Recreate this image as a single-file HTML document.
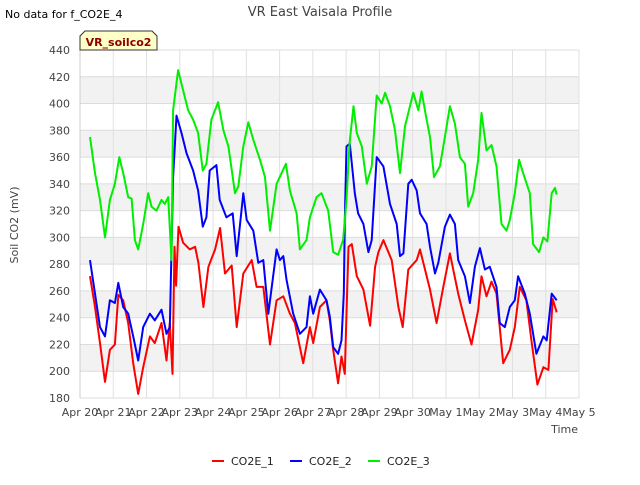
<!DOCTYPE html>
<html><head><meta charset="utf-8"><style>
body{margin:0;background:#fff;font-family:"Liberation Sans","DejaVu Sans",sans-serif}
svg text{font-family:"DejaVu Sans","Liberation Sans",sans-serif}
</style></head><body>
<svg id="chart" width="640" height="480">
<text x="5" y="18" font-size="11" fill="#000">No data for f_CO2E_4</text>
<text x="320" y="16" font-size="13" fill="#444" text-anchor="middle">VR East Vaisala Profile</text>
<g id="grid"></g>
<g id="yticks"></g>
<g id="xticks"></g>
<text transform="translate(18,225) rotate(-90)" font-size="11" fill="#444" text-anchor="middle">Soil CO2 (mV)</text>
<text x="578" y="433" font-size="11" fill="#444" text-anchor="end">Time</text>
<g id="series"></g>
<g>
<path d="M80,50 L80,36 L85,31 L152,31 L157,36 L157,50 Z" fill="#ffffc8" stroke="#333" stroke-width="1"/>
<text x="118.5" y="46" font-size="11" font-weight="bold" fill="#8b0000" text-anchor="middle">VR_soilco2</text>
</g>
<g id="legend"></g>
</svg>
<script>
const yTicks=[180,200,220,240,260,280,300,320,340,360,380,400,420,440];
const xLabels=["Apr 20","Apr 21","Apr 22","Apr 23","Apr 24","Apr 25","Apr 26","Apr 27","Apr 28","Apr 29","Apr 30","May 1","May 2","May 3","May 4","May 5"];
const seriesNames=["CO2E_1","CO2E_2","CO2E_3"];
const seriesColors=["#ff0000","#0000ff","#00ee00"];
const t1=[0.3,0.45,0.6,0.75,0.9,1.05,1.15,1.3,1.45,1.6,1.75,1.9,2.1,2.25,2.45,2.6,2.7,2.78,2.84,2.89,2.96,3.1,3.3,3.46,3.56,3.71,3.86,4.06,4.21,4.36,4.56,4.71,4.91,5.16,5.31,5.51,5.71,5.91,6.11,6.31,6.46,6.71,6.91,7.01,7.21,7.41,7.51,7.61,7.76,7.86,7.96,8.0,8.07,8.17,8.32,8.52,8.72,8.87,8.97,9.12,9.37,9.57,9.7,9.87,10.12,10.22,10.37,10.52,10.72,10.92,11.12,11.37,11.57,11.77,11.97,12.07,12.22,12.37,12.52,12.72,12.92,13.07,13.22,13.42,13.57,13.75,13.93,14.08,14.21,14.33];
const v1=[271,248,221,192,216,220,257,253,236,206,183,203,226,221,236,208,236,198,293,264,308,296,291,293,281,248,278,291,307,273,279,233,273,283,263,263,220,253,256,243,236,206,233,221,248,253,238,216,191,211,198,233,293,295,271,261,234,278,289,298,283,248,233,276,283,291,276,261,236,263,288,258,238,220,246,271,256,267,258,206,216,233,263,253,223,190,203,201,254,244];
const t2=[0.3,0.45,0.6,0.75,0.9,1.05,1.15,1.3,1.45,1.6,1.75,1.9,2.1,2.25,2.45,2.6,2.7,2.8,2.9,3.05,3.2,3.4,3.55,3.69,3.8,3.9,4.1,4.2,4.4,4.59,4.71,4.91,5.01,5.21,5.36,5.51,5.66,5.91,6.01,6.11,6.21,6.41,6.61,6.81,6.91,7.01,7.21,7.41,7.51,7.61,7.76,7.86,7.93,7.96,8.01,8.11,8.26,8.36,8.52,8.67,8.77,8.92,9.12,9.32,9.52,9.62,9.72,9.87,9.97,10.12,10.22,10.42,10.52,10.67,10.77,10.97,11.12,11.27,11.37,11.57,11.72,11.87,12.02,12.17,12.32,12.52,12.62,12.77,12.92,13.07,13.17,13.37,13.52,13.72,13.93,14.03,14.18,14.33];
const v2=[283,258,233,226,253,251,266,248,243,226,208,233,243,238,246,228,233,345,391,378,363,350,335,308,315,350,354,328,315,318,286,333,313,305,281,283,243,291,283,286,268,243,228,233,256,243,261,253,241,218,213,223,258,313,368,370,333,318,310,289,298,360,353,325,310,286,288,340,343,335,318,310,293,273,281,308,317,310,283,271,251,278,292,276,278,263,236,233,248,253,271,258,243,213,226,223,258,253];
const t3=[0.3,0.45,0.6,0.75,0.9,1.05,1.18,1.3,1.45,1.55,1.65,1.75,1.9,2.05,2.15,2.3,2.45,2.55,2.65,2.75,2.8,2.95,3.1,3.25,3.4,3.55,3.69,3.8,3.95,4.15,4.31,4.46,4.66,4.76,4.91,5.06,5.21,5.41,5.56,5.71,5.91,6.06,6.19,6.31,6.51,6.61,6.81,6.91,7.11,7.26,7.46,7.61,7.76,7.91,8.01,8.1,8.22,8.32,8.47,8.62,8.77,8.92,9.07,9.17,9.32,9.47,9.62,9.77,10.02,10.17,10.27,10.42,10.52,10.64,10.82,10.97,11.12,11.27,11.42,11.57,11.67,11.82,11.97,12.07,12.22,12.37,12.52,12.67,12.82,12.92,13.07,13.2,13.32,13.52,13.62,13.8,13.93,14.05,14.18,14.28,14.33];
const v3=[375,348,328,300,328,340,360,348,330,329,298,291,310,333,323,320,328,325,330,283,395,425,410,395,388,378,350,355,388,401,380,368,333,338,368,386,373,358,345,305,340,348,355,335,318,291,298,315,330,333,320,289,287,298,328,370,398,378,368,340,353,406,400,408,398,380,348,383,408,395,409,388,375,345,353,375,398,385,360,355,323,333,358,393,365,369,353,310,305,313,333,358,348,333,295,289,300,297,333,337,332];
const X0=80,X1=579,Y0=398,Y1=50;
function xs(d){return X0+d*(X1-X0)/15;}
function ys(v){return Y0-(v-180)*(Y0-Y1)/260;}
const NS="http://www.w3.org/2000/svg";
function mk(tag,attrs,parent){const e=document.createElementNS(NS,tag);for(const k in attrs)e.setAttribute(k,attrs[k]);parent.appendChild(e);return e;}
const grid=document.getElementById('grid');
for(let i=0;i<yTicks.length-1;i++){
  if(yTicks[i]%40===0&&yTicks[i]!==180||yTicks[i]===200){}
}
[200,240,280,320,360,400].forEach(v=>{
  const r=mk('rect',{x:X0,y:ys(v+20),width:X1-X0,height:ys(v)-ys(v+20),fill:'#f2f2f2'},grid);
  
  
});
xLabels.forEach((l,i)=>{
  const ln=mk('line',{x1:xs(i),x2:xs(i),y1:Y1,y2:Y0,stroke:'#e0e0e0','stroke-width':1},grid);
  
  
});
const yt=document.getElementById('yticks');
yTicks.forEach(v=>{
  const ln=mk('line',{x1:X0,x2:X1,y1:ys(v),y2:ys(v),stroke:'#dcdcdc','stroke-width':1},grid);
  
  
  const t=mk('text',{x:X0-10,y:ys(v)+4,'font-size':11,fill:'#444','text-anchor':'end'},yt);
  t.textContent=v;
  
  
});
mk('line',{x1:X0,x2:X0,y1:Y1,y2:Y0,stroke:'#ccc'},yt);
const xt=document.getElementById('xticks');
xLabels.forEach((l,i)=>{
  const t=mk('text',{x:xs(i),y:Y0+18,'font-size':11,fill:'#444','text-anchor':'middle'},xt);
  t.textContent=l;
  
  
});
const sg=document.getElementById('series');
[[t1,v1],[t2,v2],[t3,v3]].forEach((s,k)=>{
  const pts=s[0].map((d,i)=>xs(d).toFixed(1)+','+ys(s[1][i]).toFixed(1)).join(' ');
  const p=mk('polyline',{points:pts,fill:'none',stroke:seriesColors[k],'stroke-width':2,'stroke-linejoin':'round'},sg);
  
  
});
const lg=document.getElementById('legend');
const lx=[212,290,368];
seriesNames.forEach((n,k)=>{
  const g=mk('g',{},lg);
  
  
  mk('line',{x1:lx[k],x2:lx[k]+12,y1:461,y2:461,stroke:seriesColors[k],'stroke-width':2},g);
  const t=mk('text',{x:lx[k]+19,y:465,'font-size':11,fill:'#222'},g);
  t.textContent=n;
});
</script>
</body></html>
